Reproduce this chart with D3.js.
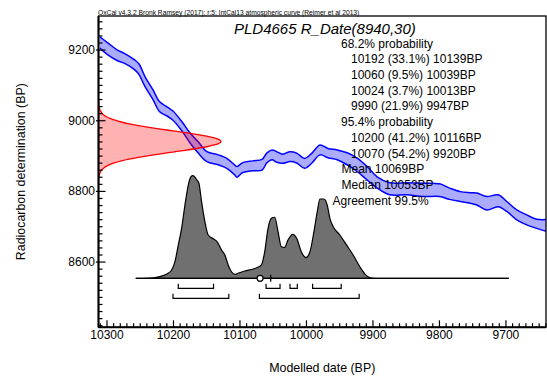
<!DOCTYPE html>
<html>
<head>
  <meta charset="UTF-8">
  <title>PLD4665 R_Date</title>
  <style>
    body { margin: 0; background: white; }
    svg { display: block; font-family: Arial, "Liberation Sans", sans-serif; }
  </style>
</head>
<body>
<svg id="chart"></svg>
<script src="https://d3js.org/d3.v7.min.js"></script>
<script>

// calibration curve (IntCal13), cal BP vs radiocarbon BP, 1 sigma
var curveYears = [10310, 10298, 10284, 10272, 10257, 10251, 10242, 10230, 10220, 10209, 10200, 10187, 10174, 10162, 10149, 10132, 10119, 10107, 10104, 10095, 10080, 10066, 10059, 10051, 10044, 10035, 10024, 10014, 10002, 9991, 9979, 9967, 9953, 9938, 9923, 9908, 9893, 9874, 9848, 9824, 9799, 9784, 9768, 9753, 9743, 9728, 9711, 9698, 9683, 9668, 9653, 9638]
var curveMean = [9220, 9202, 9184, 9174, 9156, 9144, 9109, 9072, 9038, 9025, 9013, 8984, 8949, 8923, 8897, 8888, 8878, 8859, 8854, 8866, 8871, 8874, 8893, 8902, 8896, 8891, 8897, 8893, 8878, 8893, 8916, 8907, 8902, 8891, 8874, 8850, 8824, 8806, 8806, 8803, 8802, 8792, 8784, 8780, 8777, 8765, 8772, 8756, 8732, 8718, 8707, 8702]
var curveSigma = [16, 17, 15, 14, 14, 15, 14, 14, 14, 13, 13, 13, 14, 16, 14, 14, 14, 14, 15, 14, 14, 15, 14, 14, 15, 13, 14, 14, 14, 14, 14, 13, 14, 17, 19, 19, 16, 17, 17, 19, 18, 16, 14, 15, 17, 19, 17, 14, 14, 14, 13, 17]

// radiocarbon measurement R_Date(8940,30)
var c14Values = [8820, 8830, 8840, 8845, 8850, 8855, 8860, 8865, 8870, 8875, 8880, 8885, 8890, 8895, 8900, 8905, 8910, 8915, 8920, 8925, 8930, 8935, 8940, 8945, 8950, 8955, 8960, 8965, 8970, 8975, 8980, 8985, 8990, 8995, 9000, 9005, 9010, 9015, 9020, 9025, 9030, 9035, 9040, 9045, 9050, 9060]
var c14Prob = [0.0003, 0.0012, 0.0039, 0.0066, 0.0111, 0.0181, 0.0286, 0.0439, 0.0657, 0.0956, 0.1353, 0.1864, 0.2494, 0.3247, 0.4111, 0.5063, 0.6065, 0.7066, 0.8007, 0.8825, 0.9460, 0.9862, 1, 0.9862, 0.9460, 0.8825, 0.8007, 0.7066, 0.6065, 0.5063, 0.4111, 0.3247, 0.2494, 0.1864, 0.1353, 0.0956, 0.0657, 0.0439, 0.0286, 0.0181, 0.0111, 0.0066, 0.0039, 0.0022, 0.0012, 0.0003]

// modelled (calibrated) date
var postYears = [10256, 10230, 10220, 10210, 10202, 10197, 10192, 10187, 10182, 10177, 10173, 10170, 10164, 10161, 10157, 10152, 10147, 10139, 10133, 10127, 10122, 10117, 10112, 10107, 10102, 10092, 10079, 10074, 10067, 10062, 10057, 10052, 10047, 10042, 10037, 10032, 10027, 10020, 10014, 10007, 10000, 9994, 9988, 9983, 9979, 9973, 9968, 9964, 9959, 9949, 9939, 9929, 9919, 9911, 9904, 9896, 9695]
var postProb = [0, 0.005, 0.016, 0.039, 0.081, 0.162, 0.325, 0.487, 0.714, 0.909, 0.99, 1.0, 0.958, 0.926, 0.747, 0.552, 0.422, 0.383, 0.351, 0.276, 0.227, 0.130, 0.064, 0.039, 0.049, 0.071, 0.091, 0.103, 0.130, 0.259, 0.487, 0.585, 0.595, 0.454, 0.308, 0.302, 0.373, 0.429, 0.390, 0.259, 0.201, 0.259, 0.454, 0.649, 0.773, 0.773, 0.714, 0.585, 0.503, 0.422, 0.325, 0.227, 0.113, 0.039, 0.006, 0, 0]

// hpd ranges [from, to]
var range68 = [[10192, 10139], [10060, 10039], [10024, 10013], [9990, 9947]]
var range95 = [[10200, 10116], [10070, 9920]]
var meanDate = 10069
var medianDate = 10053

var xTicks = [10300, 10200, 10100, 10000, 9900, 9800, 9700]
var yTicks = [8600, 8800, 9000, 9200]

var infoLines = [
  "68.2% probability",
  "10192 (33.1%) 10139BP",
  "10060 (9.5%) 10039BP",
  "10024 (3.7%) 10013BP",
  "9990 (21.9%) 9947BP",
  "95.4% probability",
  "10200 (41.2%) 10116BP",
  "10070 (54.2%) 9920BP",
  "Mean 10069BP",
  "Median 10053BP",
  "Agreement 99.5%"
]

var width = 547, height = 376
var plotL = 98.5, plotR = 546, plotT = 16, plotB = 327.3

var svg = d3.select("#chart").attr("width", width).attr("height", height)

var x = d3.scaleLinear().domain([10312, 9639]).range([plotL, plotR])
var y = d3.scaleLinear().domain([8414, 9295]).range([plotB, plotT])
var rx = d3.scaleLinear().domain([0, 1]).range([plotL, 221])
var baseY = 278.3
var py = d3.scaleLinear().domain([0, 1]).range([baseY, 175.7])

svg.append("clipPath").attr("id", "plotclip")
  .append("rect")
  .attr("x", plotL).attr("y", plotT)
  .attr("width", plotR - plotL).attr("height", plotB - plotT)

var plot = svg.append("g").attr("clip-path", "url(#plotclip)")

// calibration band
var curveData = curveYears.map(function(d, i) { return {t: d, m: curveMean[i], s: curveSigma[i]} })
plot.append("path")
  .datum(curveData)
  .attr("d", d3.area()
    .x(function(d) { return x(d.t) })
    .y0(function(d) { return y(d.m - d.s) })
    .y1(function(d) { return y(d.m + d.s) })
    .curve(d3.curveCatmullRom))
  .attr("fill", "rgba(0,0,255,0.33)")
  .attr("stroke", "none")
var bandLine = d3.line().x(function(d) { return x(d.t) }).curve(d3.curveCatmullRom)
plot.append("path").datum(curveData)
  .attr("d", bandLine.y(function(d) { return y(d.m + d.s) }))
  .attr("fill", "none").attr("stroke", "#0000ff").attr("stroke-width", 1.5)
plot.append("path").datum(curveData)
  .attr("d", bandLine.y(function(d) { return y(d.m - d.s) }))
  .attr("fill", "none").attr("stroke", "#0000ff").attr("stroke-width", 1.5)

// radiocarbon distribution
var c14Data = c14Values.map(function(d, i) { return {v: d, p: c14Prob[i]} })
plot.append("path")
  .datum(c14Data)
  .attr("d", d3.area()
    .y(function(d) { return y(d.v) })
    .x0(plotL)
    .x1(function(d) { return rx(d.p) })
    .curve(d3.curveMonotoneY))
  .attr("fill", "rgba(255,0,0,0.3)")
plot.append("path")
  .datum(c14Data)
  .attr("d", d3.line()
    .y(function(d) { return y(d.v) })
    .x(function(d) { return rx(d.p) })
    .curve(d3.curveMonotoneY))
  .attr("fill", "none").attr("stroke", "#ff0000").attr("stroke-width", 1.3)

// posterior
var postData = postYears.map(function(d, i) { return {t: d, p: postProb[i]} })
plot.append("path")
  .datum(postData)
  .attr("d", d3.area()
    .x(function(d) { return x(d.t) })
    .y0(baseY)
    .y1(function(d) { return py(d.p) })
    .curve(d3.curveMonotoneX))
  .attr("fill", "#707070")
  .attr("stroke", "black").attr("stroke-width", 1.2)
plot.append("line")
  .attr("x1", x(postYears[0])).attr("x2", x(postYears[postYears.length - 1]))
  .attr("y1", baseY).attr("y2", baseY)
  .attr("stroke", "black").attr("stroke-width", 1.2)

// ranges
function brackets(data, yy) {
  data.forEach(function(r) {
    plot.append("path")
      .attr("d", "M" + x(r[0]) + "," + (yy - 4.5) + "V" + yy + "H" + x(r[1]) + "V" + (yy - 4.5))
      .attr("fill", "none").attr("stroke", "black").attr("stroke-width", 1.2)
  })
}
brackets(range68, 288.3)
brackets(range95, 298.3)

plot.append("line")
  .attr("x1", x(medianDate)).attr("x2", x(medianDate))
  .attr("y1", baseY - 3.5).attr("y2", baseY + 3.5)
  .attr("stroke", "black").attr("stroke-width", 1.2)
plot.append("circle")
  .attr("cx", x(meanDate)).attr("cy", baseY).attr("r", 3)
  .attr("fill", "white").attr("stroke", "black").attr("stroke-width", 1.2)

// axes
var xMinor = d3.range(10310, 9639, -10).filter(function(d) { return d % 100 != 0 })
svg.append("g").attr("transform", "translate(0," + plotB + ")")
  .call(d3.axisBottom(x).tickValues(xMinor).tickSize(-4).tickFormat(""))
  .call(function(g) { g.select(".domain").remove() })
svg.append("g").attr("transform", "translate(0," + plotB + ")")
  .call(d3.axisBottom(x).tickValues(xTicks).tickSize(-7).tickPadding(3).tickFormat(d3.format("d")))
  .call(function(g) { g.select(".domain").remove() })

var yMinor = d3.range(8420, 9295, 20).filter(function(d) { return d % 200 != 0 })
svg.append("g").attr("transform", "translate(" + plotL + ",0)")
  .call(d3.axisLeft(y).tickValues(yMinor).tickSize(-4).tickFormat(""))
  .call(function(g) { g.select(".domain").remove() })
svg.append("g").attr("transform", "translate(" + plotL + ",0)")
  .call(d3.axisLeft(y).tickValues(yTicks).tickSize(-7).tickPadding(3.5).tickFormat(d3.format("d")))
  .call(function(g) {
    g.select(".domain").remove()
    g.selectAll(".tick line").attr("x1", -2.5)
  })

svg.selectAll(".tick line").attr("stroke", "black").attr("stroke-width", 1.2)
svg.selectAll(".tick text").attr("font-size", 12).attr("fill", "black")
  .attr("font-family", "Arial, 'Liberation Sans', sans-serif")

// frame
svg.append("rect")
  .attr("x", plotL).attr("y", plotT)
  .attr("width", plotR - plotL).attr("height", plotB - plotT)
  .attr("fill", "none").attr("stroke", "black").attr("stroke-width", 1.3)
svg.append("line")
  .attr("x1", plotL).attr("x2", plotL).attr("y1", plotT).attr("y2", plotB)
  .attr("stroke", "black").attr("stroke-width", 2)
svg.append("line")
  .attr("x1", plotL).attr("x2", plotR).attr("y1", plotB).attr("y2", plotB)
  .attr("stroke", "black").attr("stroke-width", 2)

// texts
svg.append("text")
  .attr("x", 98).attr("y", 14.5)
  .attr("font-size", 6.7)
  .text("OxCal v4.3.2 Bronk Ramsey (2017); r:5; IntCal13 atmospheric curve (Reimer et al 2013)")

svg.append("text")
  .attr("x", 234).attr("y", 34.3)
  .attr("font-size", 15).attr("font-style", "italic")
  .text("PLD4665 R_Date(8940,30)")

var infoX = [341, 351, 351, 351, 351, 341, 351, 351, 341.5, 341.5, 332.5]
svg.append("g").selectAll("text")
  .data(infoLines)
  .enter()
  .append("text")
    .attr("x", function(d, i) { return infoX[i] })
    .attr("y", function(d, i) { return 47.6 + i * 15.7 })
    .attr("font-size", 12)
    .text(function(d) { return d })

svg.append("text")
  .attr("transform", "translate(25," + (plotT + plotB) / 2 + ") rotate(-90)")
  .attr("text-anchor", "middle")
  .attr("font-size", 12.4)
  .text("Radiocarbon determination (BP)")

svg.append("text")
  .attr("x", (plotL + plotR) / 2).attr("y", 372)
  .attr("text-anchor", "middle")
  .attr("font-size", 12.4)
  .text("Modelled date (BP)")

</script>
</body>
</html>
